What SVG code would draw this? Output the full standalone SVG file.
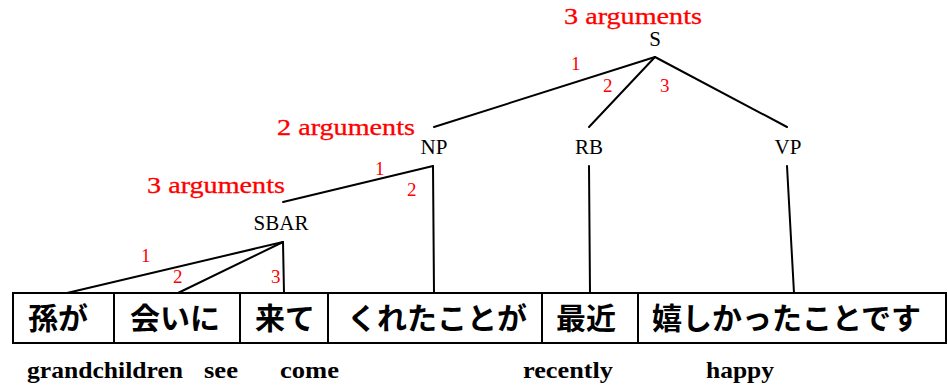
<svg xmlns="http://www.w3.org/2000/svg" width="948" height="387" viewBox="0 0 948 387">
<style>
.bg{fill:#fff}
.cell{fill:#fff;stroke:#000;stroke-width:2}
.edge{stroke:#000;stroke-width:2;fill:none;stroke-linecap:round}
.lab{font-family:"Liberation Serif","DejaVu Serif",serif;font-size:21px;fill:#000}
.arg{font-family:"Liberation Serif","DejaVu Serif",serif;font-size:23px;fill:#ff0000;stroke:#ff0000;stroke-width:0.3}
.num{font-family:"Liberation Serif","DejaVu Serif",serif;font-size:19px;fill:#ff0000}
.jp{font-family:"Noto Sans CJK JP","Noto Sans CJK SC",sans-serif;font-size:30px;font-weight:700;fill:#000}
.gl{font-family:"Liberation Serif","DejaVu Serif",serif;font-size:23px;font-weight:700;fill:#000}
</style>
<rect class="bg" x="0" y="0" width="948" height="387"/>
<g id="connectors">
<line class="edge" x1="655" y1="57" x2="434" y2="127"/>
<line class="edge" x1="655" y1="57" x2="589" y2="127"/>
<line class="edge" x1="655" y1="57" x2="787" y2="127"/>
<line class="edge" x1="433" y1="166" x2="283" y2="202"/>
<line class="edge" x1="433" y1="166" x2="434" y2="293"/>
<line class="edge" x1="589" y1="166" x2="590" y2="293"/>
<line class="edge" x1="787" y1="166" x2="794" y2="293"/>
<line class="edge" x1="283" y1="242" x2="67" y2="293"/>
<line class="edge" x1="283" y1="242" x2="178" y2="293"/>
<line class="edge" x1="283" y1="242" x2="284" y2="293"/>
<text class="num" x="571" y="70">1</text>
<text class="num" x="603" y="92">2</text>
<text class="num" x="660" y="92">3</text>
<text class="num" x="375" y="175">1</text>
<text class="num" x="407" y="196">2</text>
<text class="num" x="141" y="262">1</text>
<text class="num" x="173" y="283">2</text>
<text class="num" x="271" y="283">3</text>
</g>
<g id="S">
<text class="arg" x="564" y="24" textLength="138" lengthAdjust="spacingAndGlyphs">3 arguments</text>
<text class="lab" x="655" y="46" text-anchor="middle">S</text>
</g>
<g id="NP">
<text class="arg" x="277" y="135" textLength="138" lengthAdjust="spacingAndGlyphs">2 arguments</text>
<text class="lab" x="434" y="154" text-anchor="middle">NP</text>
</g>
<g id="RB">
<text class="lab" x="589" y="154" text-anchor="middle">RB</text>
</g>
<g id="VP">
<text class="lab" x="788" y="154" text-anchor="middle">VP</text>
</g>
<g id="SBAR">
<text class="arg" x="147" y="193" textLength="138" lengthAdjust="spacingAndGlyphs">3 arguments</text>
<text class="lab" x="281" y="230" text-anchor="middle">SBAR</text>
</g>
<g id="w1">
<rect class="cell" x="13" y="293" width="101" height="50"/>
<text class="jp" x="28" y="329">孫が</text>
<text class="gl" x="27" y="378" textLength="156" lengthAdjust="spacingAndGlyphs">grandchildren</text>
</g>
<g id="w2">
<rect class="cell" x="114" y="293" width="126" height="50"/>
<text class="jp" x="130" y="329">会いに</text>
<text class="gl" x="204" y="378" textLength="34" lengthAdjust="spacingAndGlyphs">see</text>
</g>
<g id="w3">
<rect class="cell" x="240" y="293" width="88" height="50"/>
<text class="jp" x="255" y="329">来て</text>
<text class="gl" x="280" y="378" textLength="59" lengthAdjust="spacingAndGlyphs">come</text>
</g>
<g id="w4">
<rect class="cell" x="328" y="293" width="214" height="50"/>
<text class="jp" x="347" y="329">くれたことが</text>
</g>
<g id="w5">
<rect class="cell" x="542" y="293" width="96" height="50"/>
<text class="jp" x="556" y="329">最近</text>
<text class="gl" x="523" y="378" textLength="90" lengthAdjust="spacingAndGlyphs">recently</text>
</g>
<g id="w6">
<rect class="cell" x="638" y="293" width="308" height="50"/>
<text class="jp" x="652" y="329">嬉しかったことです</text>
<text class="gl" x="706" y="378" textLength="68" lengthAdjust="spacingAndGlyphs">happy</text>
</g>
</svg>
